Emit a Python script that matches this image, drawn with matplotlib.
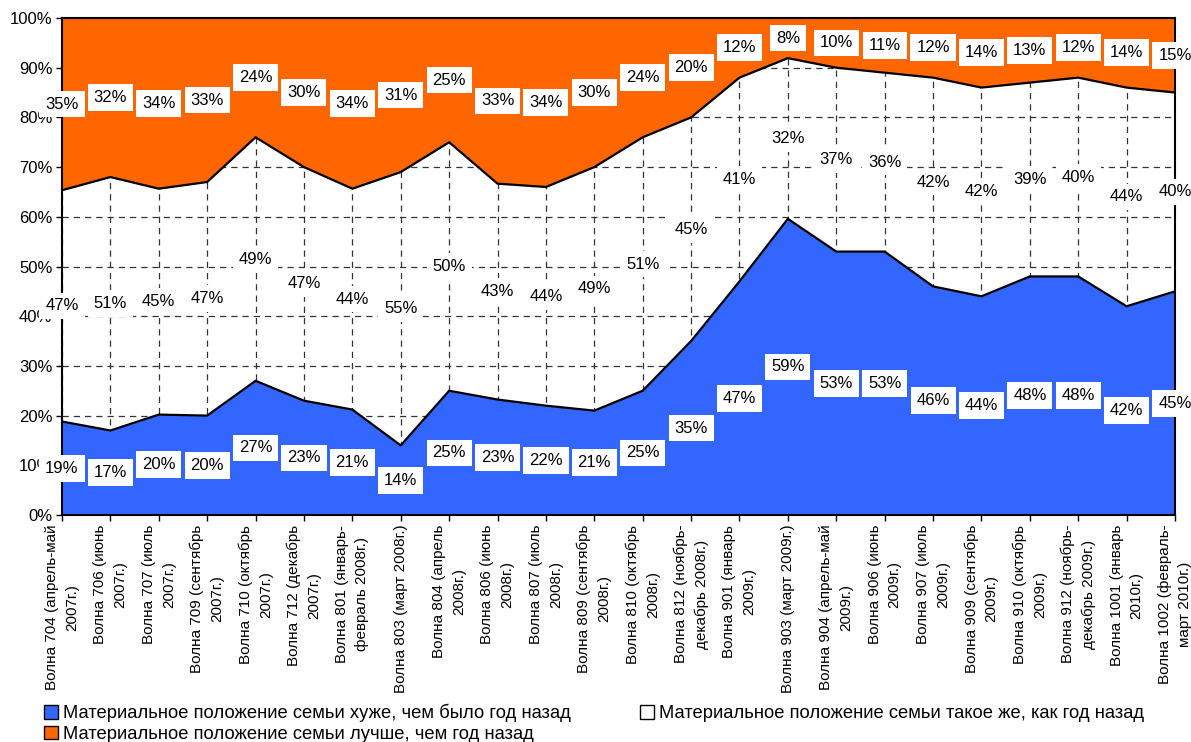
import numpy as np
import matplotlib
matplotlib.use("Agg")
import matplotlib.pyplot as plt
from matplotlib.patches import Patch
from matplotlib.ticker import PercentFormatter

categories = [
    "Волна 704 (апрель-май\n2007г.)",
    "Волна 706 (июнь\n2007г.)",
    "Волна 707 (июль\n2007г.)",
    "Волна 709 (сентябрь\n2007г.)",
    "Волна 710 (октябрь\n2007г.)",
    "Волна 712 (декабрь\n2007г.)",
    "Волна 801 (январь-\nфевраль 2008г.)",
    "Волна 803 (март 2008г.)",
    "Волна 804 (апрель\n2008г.)",
    "Волна 806 (июнь\n2008г.)",
    "Волна 807 (июль\n2008г.)",
    "Волна 809 (сентябрь\n2008г.)",
    "Волна 810 (октябрь\n2008г.)",
    "Волна 812 (ноябрь-\nдекабрь 2008г.)",
    "Волна 901 (январь\n2009г.)",
    "Волна 903 (март 2009г.)",
    "Волна 904 (апрель-май\n2009г.)",
    "Волна 906 (июнь\n2009г.)",
    "Волна 907 (июль\n2009г.)",
    "Волна 909 (сентябрь\n2009г.)",
    "Волна 910 (октябрь\n2009г.)",
    "Волна 912 (ноябрь-\nдекабрь 2009г.)",
    "Волна 1001 (январь\n2010г.)",
    "Волна 1002 (февраль-\nмарт 2010г.)",
]

worse = [19, 17, 20, 20, 27, 23, 21, 14, 25, 23, 22, 21, 25, 35, 47, 59, 53, 53, 46, 44, 48, 48, 42, 45]
same = [47, 51, 45, 47, 49, 47, 44, 55, 50, 43, 44, 49, 51, 45, 41, 32, 37, 36, 42, 42, 39, 40, 44, 40]
better = [35, 32, 34, 33, 24, 30, 34, 31, 25, 33, 34, 30, 24, 20, 12, 8, 10, 11, 12, 14, 13, 12, 14, 15]

series_names = [
    "Материальное положение семьи хуже, чем было год назад",
    "Материальное положение семьи такое же, как год назад",
    "Материальное положение семьи лучше, чем год назад",
]

BLUE = "#3366FF"
ORANGE = "#FF6600"


def main():
    plt.rcParams.update(
        {
            "font.family": ["Liberation Sans", "DejaVu Sans"],
            "axes.linewidth": 1.5,
        }
    )

    w = np.array(worse, dtype=float)
    s = np.array(same, dtype=float)
    b = np.array(better, dtype=float)
    total = w + s + b
    # 100% stacked: normalise each wave
    b1 = w / total * 100
    b2 = (w + s) / total * 100
    x = np.arange(len(categories))

    fig = plt.figure(figsize=(11.91, 7.42), dpi=100)
    ax = fig.add_axes([62 / 1191, 1 - 515 / 742, (1175 - 62) / 1191, (515 - 18) / 742])

    ax.set_axisbelow(True)
    ax.grid(True, color="#333333", linestyle=(0, (5, 4)), linewidth=0.9)

    ax.fill_between(x, 0, b1, color=BLUE, lw=0, zorder=1)
    ax.fill_between(x, b2, 100, color=ORANGE, lw=0, zorder=1)
    ax.plot(x, b1, color="black", lw=1.6, zorder=2)
    ax.plot(x, b2, color="black", lw=1.6, zorder=2)

    box = dict(boxstyle="square,pad=0.35", facecolor="white", edgecolor="none")
    for i in range(len(x)):
        for y, v in [(b1[i] / 2, worse[i]), ((b1[i] + b2[i]) / 2, same[i]), ((b2[i] + 100) / 2, better[i])]:
            ax.text(x[i], y, f"{v}%", ha="center", va="center", fontsize=12,
                    bbox=box, zorder=3, clip_on=False)

    ax.set_xlim(0, len(x) - 1)
    ax.set_ylim(0, 100)
    ax.set_yticks(np.arange(0, 101, 10))
    ax.yaxis.set_major_formatter(PercentFormatter(decimals=0))
    ax.set_xticks(x)
    ax.set_xticklabels(categories, rotation=90, ha="center", va="top",
                       multialignment="center", fontsize=11, linespacing=1.55)
    ax.tick_params(axis="y", labelsize=12, length=4, width=1, pad=3)
    ax.tick_params(axis="x", length=4, width=1, pad=3)
    for sp in ax.spines.values():
        sp.set_color("black")

    handles = [
        Patch(facecolor=BLUE, edgecolor="black"),
        Patch(facecolor=ORANGE, edgecolor="black"),
        Patch(facecolor="white", edgecolor="black"),
    ]
    labels = [series_names[0], series_names[2], series_names[1]]
    fig.legend(handles, labels, loc="upper left", bbox_to_anchor=(44 / 1191, 1 - 704 / 742),
               ncol=2, frameon=False, fontsize=13.2, handlelength=0.75, handleheight=0.75,
               handletextpad=0.3, labelspacing=0.2, columnspacing=3.75,
               borderpad=0, borderaxespad=0)

    fig.savefig("out.png", dpi=100)


if __name__ == "__main__":
    main()
